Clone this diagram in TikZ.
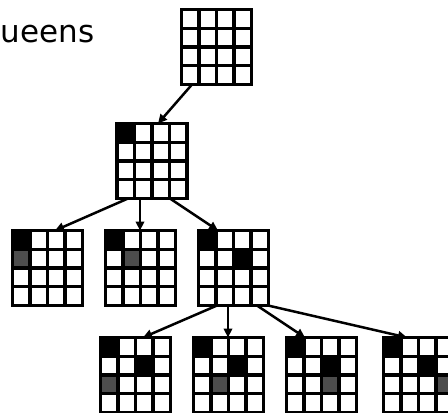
\documentclass[tikz,border=0pt]{standalone}
\usepackage{fontspec}
\setmainfont{DejaVu Sans}
\usetikzlibrary{arrows.meta, calc}
\definecolor{queengray}{HTML}{4D4D4D}

\tikzset{
  board/.style={minimum width=70pt, minimum height=75pt, inner sep=0pt, outer sep=0pt},
  gridline/.style={line width=3.2pt, line cap=rect},
  move/.style={line width=2.5pt, -{Triangle[length=9pt, width=8.5pt]}}
}

% one 4x4 board: name, north west corner, list of row/column/colour
\newcommand{\qboard}[3]{%
  \node[board, anchor=north west] (#1) at (#2) {};
  \foreach \row/\col/\shade in {#3}
    \fill[\shade] ([xshift=\col*17.5pt, yshift=-\row*18.75pt]#1.north west) rectangle ++(17.5pt,-18.75pt);
  \foreach \k in {0,...,4} {
    \draw[gridline] ([xshift=\k*17.5pt]#1.north west) -- ([xshift=\k*17.5pt]#1.south west);
    \draw[gridline] ([yshift=-\k*18.75pt]#1.north west) -- ([yshift=-\k*18.75pt]#1.north east);
  }
}

\begin{document}
\begin{tikzpicture}[x=1pt, y=-1pt]
  \useasboundingbox (0,0) rectangle (448,413);

  \node[anchor=base west, font=\fontsize{31}{37}\selectfont, inner sep=0pt] (title) at (0.5,42) {ueens};

  % the tree of boards
  \qboard{root}{181.5,9.5}{}
  \qboard{one}{117,123.5}{0/0/black}
  \qboard{twoa}{12.5,230.5}{0/0/black, 1/0/queengray}
  \qboard{twob}{105.5,230.5}{0/0/black, 1/1/queengray}
  \qboard{twoc}{198.5,230.5}{0/0/black, 1/2/black}
  \qboard{threea}{100.5,337.5}{0/0/black, 1/2/black, 2/0/queengray}
  \qboard{threeb}{193.5,337.5}{0/0/black, 1/2/black, 2/1/queengray}
  \qboard{threec}{286.5,337.5}{0/0/black, 1/2/black, 2/2/queengray}
  \qboard{threed}{383.5,337.5}{0/0/black, 1/2/black, 2/3/queengray}

  % moves
  \draw[move] ([xshift=10.5pt]root.south west) -- ([xshift=41pt]one.north west);
  \draw[move] ([xshift=11pt]one.south west) -- ([xshift=42.5pt]twoa.north west);
  \draw[move] ([xshift=23pt]one.south west) -- ([xshift=34.5pt]twob.north west);
  \draw[move] ([xshift=53pt]one.south west) -- ([xshift=19.5pt]twoc.north west);
  \draw[move] ([xshift=18.5pt]twoc.south west) -- ([xshift=42.5pt]threea.north west);
  \draw[move] ([xshift=29.5pt]twoc.south west) -- ([xshift=34.5pt]threeb.north west);
  \draw[move] ([xshift=58.5pt]twoc.south west) -- ([xshift=18.5pt]threec.north west);
  \draw[move] ([xshift=69.5pt]twoc.south west) -- ([xshift=23.5pt]threed.north west);
\end{tikzpicture}
\end{document}
